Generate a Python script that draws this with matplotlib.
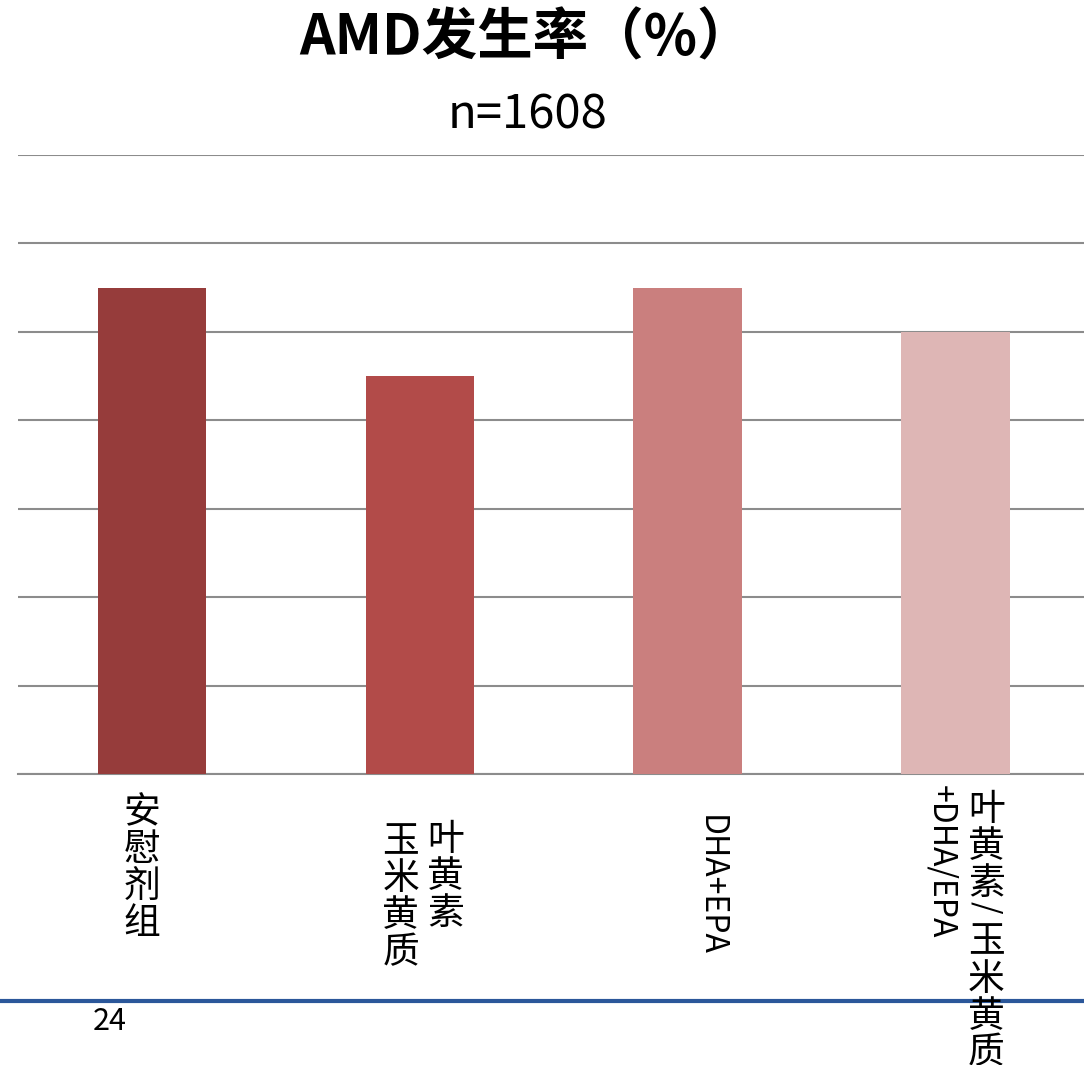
import re
import matplotlib
matplotlib.use("Agg")
import matplotlib.pyplot as plt
from matplotlib.transforms import IdentityTransform

plt.rcParams['font.family'] = ['Noto Sans CJK SC', 'DejaVu Sans']

# 数据
categorias = ["安慰剂组", "叶黄素\n玉米黄质", "DHA+EPA", "叶黄素/ 玉米黄质\n+DHA/EPA"]
valores = [5.5, 4.5, 5.5, 5.0]
cores = ["#963C3B", "#B24B49", "#CA7F7E", "#DEB6B5"]
titulo = "AMD发生率（%）"
subtitulo = "n=1608"
pagina = "24"

W, H = 1084, 1065
fig = plt.figure(figsize=(W / 100, H / 100), dpi=100)
ax = fig.add_axes([18 / W, 1 - 774 / H, (W - 18) / W, (774 - 155) / H])

x = list(range(len(valores)))
ax.bar(x, valores, width=0.405, color=cores, zorder=3)
ax.set_xlim(-0.5, 3.48)
ax.set_ylim(0, 7)
ax.set_yticks(range(0, 8))
ax.yaxis.grid(True, color="#8C8C8C", linewidth=1.5, zorder=0)
ax.tick_params(left=False, bottom=False, labelleft=False, labelbottom=False)
for s in ["top", "right", "left"]:
    ax.spines[s].set_visible(False)
ax.spines["bottom"].set_color("#8C8C8C")
ax.spines["bottom"].set_linewidth(1.5)

# títulos
fig.text(526 / W, 1 - 38 / H, titulo, ha="center", va="center", fontsize=40, fontweight="bold")
fig.text(528 / W, 1 - 115 / H, subtitulo, ha="center", va="center", fontsize=34)

renderer = fig.canvas.get_renderer()
ident = IdentityTransform()


def coluna_vertical(xp, y_topo, texto, cjk_size=26.5, lat_size=23, avanco=37):
    """Escreve uma coluna de texto vertical (CJK em pé, latino girado)."""
    y = y_topo
    for run in re.findall(r'[\u4e00-\u9fff]|[^\u4e00-\u9fff]+', texto):
        if re.match(r'[\u4e00-\u9fff]', run):
            fig.text(xp, H - y, run, ha="center", va="top", fontsize=cjk_size, transform=ident)
            y += avanco
        else:
            t = fig.text(xp, H - y, run, rotation=270, rotation_mode="anchor",
                         ha="left", va="center", fontsize=lat_size, transform=ident)
            y += t.get_window_extent(renderer).height + 2


# rótulos do eixo x (colunas da direita para a esquerda)
desloc = [(-10, [793]), (26, [820, 822]), (23, [815]), (31, [790, 785])]
for i, cat in enumerate(categorias):
    cx = ax.transData.transform((i, 0))[0]
    dx, tops = desloc[i]
    for j, linha in enumerate(cat.split("\n")):
        coluna_vertical(cx + dx - 45 * j, tops[j], linha)

# linha azul e número da página
fig.add_artist(plt.Line2D([0, 1], [1 - 1001 / H, 1 - 1001 / H], color="#2B579A", linewidth=3))
fig.text(110 / W, 1 - 1021 / H, pagina, ha="center", va="center", fontsize=22)

fig.savefig("out.png", dpi=100)
